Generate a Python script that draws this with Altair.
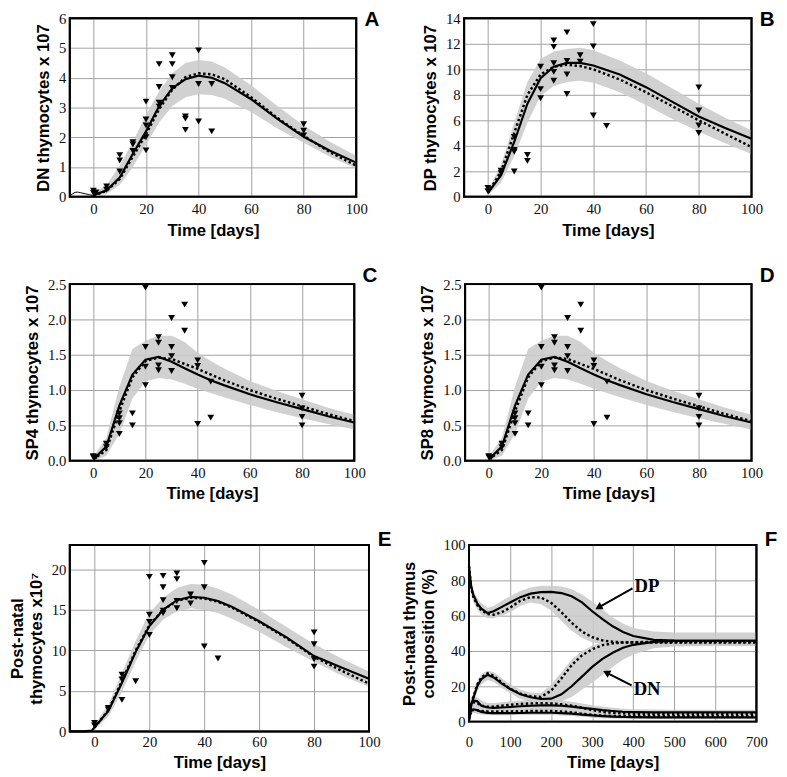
import altair as alt
import pandas as pd

# ---------------- data ----------------
T = [0, 5, 10, 15, 20, 25, 30, 35, 40, 45, 50, 60, 70, 80, 90, 100]

# Panel A (DN)
A_solid = [0.05, 0.22, 0.65, 1.45, 2.2, 3.05, 3.65, 3.95, 4.07, 4.0, 3.82, 3.28, 2.62, 2.02, 1.55, 1.15]
A_dot = [0.05, 0.2, 0.6, 1.35, 2.1, 2.95, 3.6, 4.02, 4.15, 4.12, 3.95, 3.35, 2.65, 2.05, 1.5, 1.05]
A_hi = [0.12, 0.4, 1.05, 1.85, 2.75, 3.55, 4.15, 4.5, 4.6, 4.55, 4.35, 3.75, 3.05, 2.4, 1.85, 1.38]
A_lo = [0.0, 0.1, 0.4, 1.0, 1.75, 2.5, 3.05, 3.35, 3.45, 3.42, 3.3, 2.85, 2.3, 1.82, 1.35, 0.95]
A_pre_t = [-9, -8, -7, -6, -5, -4, -3, -2, -1, 0]
A_pre_v = [0.02, 0.1, 0.15, 0.16, 0.14, 0.12, 0.1, 0.08, 0.06, 0.05]
A_px = [0, 0, 1, 5, 5, 10, 10, 10, 15, 15, 15, 20, 20, 20, 20, 20, 25, 25, 25, 25, 30, 30, 30, 30,
        35, 35, 35, 40, 40, 40, 45, 45, 80, 80, 80]
A_py = [0.21, 0.13, 0.15, 0.35, 0.24, 1.40, 1.22, 0.85, 1.84, 1.76, 1.54, 3.2, 2.6, 2.4, 2.0, 1.56,
        4.46, 3.69, 3.16, 3.03, 4.76, 4.46, 4.02, 3.66, 2.7, 2.63, 2.25, 4.92, 3.79, 2.53, 3.79, 2.2,
        2.44, 2.22, 2.06]

# Panel B (DP)
B_solid = [0.3, 1.7, 4.3, 7.3, 9.3, 10.2, 10.5, 10.5, 10.3, 9.95, 9.6, 8.6, 7.45, 6.3, 5.4, 4.55]
B_dot = [0.3, 2.0, 5.0, 8.0, 9.6, 10.2, 10.35, 10.25, 10.0, 9.6, 9.2, 8.2, 7.1, 6.0, 4.95, 3.9]
B_hi = [0.5, 2.5, 5.8, 9.0, 10.8, 11.4, 11.6, 11.7, 11.5, 11.1, 10.7, 9.7, 8.5, 7.3, 6.2, 5.2]
B_lo = [0.1, 1.1, 3.2, 5.8, 7.9, 8.7, 9.0, 9.1, 8.95, 8.6, 8.2, 7.2, 6.1, 5.1, 4.2, 3.35]
B_px = [0, 0, 5, 5, 10, 10, 10, 10, 15, 15, 20, 20, 20, 25, 25, 25, 25, 25, 30, 30, 30, 30,
        35, 35, 40, 40, 40, 45, 80, 80, 80, 80]
B_py = [0.7, 0.45, 2.04, 1.86, 4.7, 3.67, 3.54, 1.99, 3.28, 2.82, 10.2, 8.45, 7.73, 12.27, 11.76,
        10.47, 9.8, 9.1, 12.9, 10.65, 9.6, 8.06, 11.1, 10.6, 13.54, 11.8, 6.38, 5.56, 8.58, 6.77, 5.6, 5.0]

# Panel C (SP4) and D (SP8) -- identical in the figure
C_solid = [0.02, 0.2, 0.78, 1.22, 1.43, 1.47, 1.4, 1.31, 1.22, 1.14, 1.07, 0.94, 0.83, 0.73, 0.63, 0.54]
C_dot = [0.02, 0.15, 0.7, 1.18, 1.41, 1.46, 1.44, 1.37, 1.3, 1.22, 1.14, 1.0, 0.88, 0.77, 0.66, 0.56]
C_hi = [0.06, 0.32, 1.05, 1.58, 1.7, 1.77, 1.77, 1.68, 1.53, 1.41, 1.31, 1.13, 0.99, 0.87, 0.75, 0.65]
C_lo = [0.0, 0.07, 0.38, 0.88, 1.12, 1.17, 1.15, 1.09, 1.02, 0.96, 0.9, 0.79, 0.69, 0.6, 0.52, 0.44]
C_px = [0, 0, 1, 5, 5, 10, 10, 10, 10, 15, 15, 20, 20, 20, 20, 25, 25, 25, 25, 30, 30, 30, 30,
        35, 35, 40, 40, 40, 45, 45, 80, 80, 80, 80]
C_py = [0.065, 0.05, 0.05, 0.24, 0.19, 0.67, 0.6, 0.53, 0.38, 0.67, 0.5, 2.45, 1.61, 1.33, 1.07,
        1.75, 1.67, 1.35, 1.28, 2.02, 1.61, 1.48, 1.27, 2.21, 1.84, 1.42, 1.34, 0.52, 1.12, 0.61,
        0.92, 0.74, 0.62, 0.5]

# Panel E (total)
E_solid_t = [-9, -4, -1] + T
E_solid = [0.0, 0.0, 0.1, 0.5, 2.5, 6.0, 9.8, 13.0, 15.0, 16.2, 16.6, 16.5, 16.1, 15.4, 13.6, 11.6, 9.3, 7.9, 6.5]
E_dot = [0.5, 2.6, 6.2, 10.0, 13.1, 15.0, 16.1, 16.5, 16.4, 16.0, 15.3, 13.5, 11.5, 9.2, 7.5, 5.9]
E_hi = [0.9, 3.3, 7.2, 11.2, 14.6, 16.5, 17.7, 18.2, 18.1, 17.6, 16.9, 15.0, 12.9, 10.8, 9.0, 7.4]
E_lo = [0.2, 1.8, 4.9, 8.6, 11.9, 13.8, 14.8, 15.2, 15.0, 14.6, 13.9, 12.3, 10.4, 8.6, 6.9, 5.5]
E_px = [0, 0, 5, 5, 10, 10, 10, 15, 20, 20, 20, 20, 25, 25, 25, 25, 25, 30, 30, 30, 30, 35, 35,
        40, 40, 40, 45, 80, 80, 80, 80]
E_py = [1.05, 0.73, 2.9, 2.7, 7.0, 6.4, 3.9, 6.2, 19.07, 14.4, 13.5, 11.9, 19.2, 17.8, 16.2, 14.9,
        14.6, 19.5, 18.8, 16.1, 15.2, 16.9, 15.8, 20.8, 17.8, 10.5, 9.0, 12.2, 10.75, 8.9, 8.0]

# Panel F (composition, %)
F_T = [0, 5, 10, 20, 30, 45, 60, 80, 100, 125, 150, 175, 200, 225, 250, 275, 300, 325, 350, 375,
       400, 450, 500, 600, 700]
DP_solid = [88, 77, 72, 67, 64, 61.5, 62.5, 65, 67.5, 70.5, 72.5, 73.3, 73.5, 72.8, 71, 67.5, 62.5,
            58, 54, 50.8, 48.5, 46.3, 45.9, 45.8, 45.8]
DP_dot = [88, 76, 71, 66, 63, 61, 60.5, 62, 64.5, 68.5, 70.5, 70.3, 67.3, 62, 56, 51, 47.8, 46,
          45.2, 44.9, 44.8, 44.8, 44.8, 44.8, 44.8]
DP_hi = [90, 80, 75, 70, 67, 64.5, 65.5, 68.5, 71, 74, 76, 77, 77, 76.5, 75, 72, 68, 63.5, 59, 55.5,
         53, 51, 50.5, 50.5, 50.5]
DP_lo = [85, 73, 68, 63.5, 60.5, 58.5, 58.5, 60, 62, 65.5, 67.5, 66.5, 63, 57, 51.5, 47.5, 45, 43.8,
         43.3, 43, 42.8, 42.8, 42.8, 42.8, 42.8]
DN_solid = [2, 9, 13, 20, 24, 26.5, 25, 21.5, 18.5, 15.5, 13.8, 12.8, 13, 15.5, 20, 25.5, 31, 35.5,
            39, 41.8, 43.5, 45.2, 45.7, 45.8, 45.8]
DN_dot = [2, 9, 13.5, 21, 25, 27.3, 26, 22, 18.7, 15.8, 14.3, 14, 17.5, 24.5, 32, 37.5, 41, 43.3,
          44.3, 44.8, 45, 45.1, 45.1, 45.1, 45.1]
DN_hi = [5, 12, 16, 23, 27, 29, 28, 24.5, 21, 18, 16.5, 16, 21, 28, 35, 40, 43, 44.8, 45.8, 46.3,
         46.6, 47, 47, 47, 47]
DN_lo = [0, 6, 10, 17, 21, 23.5, 22.5, 19, 16, 13, 11.3, 10.5, 10.5, 11.5, 14, 18, 22, 26.5, 31, 35,
         38, 41.5, 42.5, 43, 43]
S1_solid = [3, 10, 12, 11.5, 9, 8, 7.8, 8, 8.3, 8.7, 9, 9.2, 9.2, 9, 8.5, 7.8, 7.2, 6.5, 6, 5.6,
            5.4, 5.2, 5.2, 5.2, 5.2]
S1_dot = [3, 9.5, 11, 10.5, 9, 8.5, 8.5, 9, 9.5, 10, 10.3, 10.4, 10.3, 9.8, 9, 7.8, 6.5, 5.5, 5,
          4.7, 4.5, 4.3, 4.3, 4.3, 4.3]
S2_solid = [1, 6.5, 7, 6.5, 5.5, 4.9, 4.8, 4.8, 4.8, 4.9, 5, 5, 5, 4.8, 4.5, 4, 3.5, 3.1, 2.8, 2.6,
            2.5, 2.4, 2.4, 2.4, 2.4]
S2_dot = [1, 6, 6.5, 6.5, 6, 5.8, 5.8, 5.8, 5.8, 5.9, 6, 6, 6, 5.7, 5.2, 4.5, 3.8, 3.4, 3.2, 3.1,
          3, 3, 3, 3, 3]
SM_hi = [8, 14, 15, 14, 12, 10.5, 10.5, 11, 11.5, 12, 12.3, 12.5, 12.5, 12, 11.3, 10.3, 9.3, 8.5,
         7.8, 7.3, 7, 6.8, 6.7, 6.7, 6.7]
SM_lo = [0, 4, 5, 4.5, 4, 3.7, 3.6, 3.6, 3.6, 3.7, 3.8, 3.8, 3.8, 3.5, 3.2, 2.7, 2.2, 1.9, 1.7,
         1.6, 1.5, 1.5, 1.5, 1.5, 1.5]

# annotations in panel F
ANN_text = ["DP", "DN"]
ANN_tx = [403, 401]
ANN_ty = [76.5, 18.5]
ARR_x = [398, 396]
ARR_y = [75.5, 20.5]
ARR_x2 = [318, 337]
ARR_y2 = [65.0, 27.5]
ARR_angle = [241, 297]

BAND = "#cbcbcb"
DASH = [2.5, 2.5]
FRAME = alt.ViewBackground(stroke="black", strokeWidth=2)


def ax(values, title, fmt=None, x=False, lpad=None):
    kw = dict(values=values, title=title, grid=True, gridColor="#a0a0a0", gridWidth=1,
              domain=False, ticks=False,
              labelFont="Liberation Serif", labelFontSize=15, labelColor="#111111",
              labelPadding=lpad if lpad is not None else (5 if x else 4), labelFlush=False,
              titleFont="Liberation Sans", titleFontWeight="bold", titleFontSize=17,
              titleColor="black", titlePadding=6)
    if fmt:
        kw["format"] = fmt
    return alt.Axis(**kw)


def scales(xdom, ydom):
    return (alt.Scale(domain=xdom, nice=False, zero=False),
            alt.Scale(domain=ydom, nice=False, zero=False))


def letter_layer(letter, x, y):
    return alt.Chart(pd.DataFrame({"k": [0]})).mark_text(
        text=letter, font="Liberation Sans", fontWeight="bold", fontSize=21,
        baseline="top", align="center", color="black"
    ).encode(x=alt.value(x), y=alt.value(y))


def pin_layer(L, R, Tp, Bp):
    return alt.Chart(pd.DataFrame({"k": [0]})).mark_rect(opacity=0).encode(
        x=alt.value(L), x2=alt.value(R), y=alt.value(Tp), y2=alt.value(Bp))


def frame_layer(w, h):
    # plot border drawn above the grid lines
    return alt.Chart(pd.DataFrame({"k": [0]})).mark_rect(
        fillOpacity=0, stroke="black", strokeWidth=2).encode(
        x=alt.value(0), x2=alt.value(w), y=alt.value(0), y2=alt.value(h))


def panel(solid_t, solid, dot, lo, hi, px, py, ydom, yvals, ytitle, letter, w, h,
          pins, letter_y, yfmt=None, pre=None, xpad=5):
    xs, ys = scales([-9, 100], ydom)
    xax = ax([0, 20, 40, 60, 80, 100], "Time [days]", x=True, lpad=xpad)
    yax = ax(yvals, ytitle, yfmt)

    def X(f):
        return alt.X(f + ":Q", scale=xs, axis=xax)

    def Y(f):
        return alt.Y(f + ":Q", scale=ys, axis=yax)

    band = alt.Chart(pd.DataFrame({"t": T, "lo": lo, "hi": hi})).mark_area(
        color=BAND, opacity=0.88).encode(x=X("t"), y=Y("lo"), y2="hi:Q")
    dotted = alt.Chart(pd.DataFrame({"t": T, "dot": dot})).mark_line(
        color="black", strokeWidth=2.5, strokeDash=DASH).encode(x=X("t"), y=Y("dot"))
    sol = alt.Chart(pd.DataFrame({"t": solid_t, "solid": solid})).mark_line(
        color="black", strokeWidth=2.2).encode(x=X("t"), y=Y("solid"))
    pts = alt.Chart(pd.DataFrame({"px": px, "py": py})).mark_point(
        shape="triangle-down", filled=True, color="black", size=48, opacity=1
    ).encode(x=X("px"), y=Y("py"))
    layers = [band, dotted, sol]
    if pre is not None:
        layers.append(alt.Chart(pd.DataFrame({"t": pre[0], "pre": pre[1]})).mark_line(
            color="black", strokeWidth=1).encode(x=X("t"), y=Y("pre")))
    layers += [pts, frame_layer(w, h), letter_layer(letter, w + 16, letter_y), pin_layer(*pins)]
    return alt.layer(*layers).properties(width=w, height=h, view=FRAME)


# ---------------- panels ----------------
wA, hA = 292, 182
A = panel(T, A_solid, A_dot, A_lo, A_hi, A_px, A_py, [0, 6], [0, 1, 2, 3, 4, 5, 6],
          "DN thymocytes x 107", "A", wA, hA, (-61, wA + 26, -9, hA + 50), -9, pre=(A_pre_t, A_pre_v))
wB, hB = 293, 182
B = panel(T, B_solid, B_dot, B_lo, B_hi, B_px, B_py, [0, 14], [0, 2, 4, 6, 8, 10, 12, 14],
          "DP thymocytes x 107", "B", wB, hB, (-48, wB + 22, -9, hB + 50), -9)

wC, hC = 290, 180
C = panel(T, C_solid, C_dot, C_lo, C_hi, C_px, C_py, [0, 2.5], [0, 0.5, 1.0, 1.5, 2.0, 2.5],
          "SP4 thymocytes x 107", "C", wC, hC, (-61, wC + 26, -22, hC + 50), -19, yfmt=".1f")
wD, hD = 292, 180
D = panel(T, C_solid, C_dot, C_lo, C_hi, C_px, C_py, [0, 2.5], [0, 0.5, 1.0, 1.5, 2.0, 2.5],
          "SP8 thymocytes x 107", "D", wD, hD, (-48, wD + 22, -22, hD + 50), -19, yfmt=".1f")

wE, hE = 305, 190
E = panel(E_solid_t, E_solid, E_dot, E_lo, E_hi, E_px, E_py, [0, 23], [0, 5, 10, 15, 20],
          ["Post-natal", "thymocytes x10\u2077"], "E", wE, hE, (-60, wE + 24, -19, hE + 30), -16,
          xpad=3)

# Panel F
wF, hF = 293, 180
fxs, fys = scales([0, 700], [0, 100])
fxax = ax([0, 100, 200, 300, 400, 500, 600, 700], "Time [days]", x=True, lpad=13)
fyax = ax([0, 20, 40, 60, 80, 100], ["Post-natal thymus", "composition (%)"])

band_rows = []
for name, lo, hi in [("DP", DP_lo, DP_hi), ("DN", DN_lo, DN_hi), ("SM", SM_lo, SM_hi)]:
    for t, a, b in zip(F_T, lo, hi):
        band_rows.append({"t": t, "lo": a, "hi": b, "band": name})
line_rows = []
for name, vals, style in [("DPs", DP_solid, "s"), ("DPd", DP_dot, "d"), ("DNs", DN_solid, "s"),
                          ("DNd", DN_dot, "d"), ("S1s", S1_solid, "s"), ("S1d", S1_dot, "d"),
                          ("S2s", S2_solid, "s"), ("S2d", S2_dot, "d")]:
    for t, v in zip(F_T, vals):
        line_rows.append({"t": t, "v": v, "series": name, "style": style})
fb = pd.DataFrame(band_rows)
fl = pd.DataFrame(line_rows)


def FX(f):
    return alt.X(f + ":Q", scale=fxs, axis=fxax)


def FY(f):
    return alt.Y(f + ":Q", scale=fys, axis=fyax)


f_band = alt.Chart(fb).mark_area(color=BAND, opacity=0.88).encode(
    x=FX("t"), y=FY("lo"), y2="hi:Q", detail="band:N")
f_dot = alt.Chart(fl).transform_filter("datum.style == 'd'").mark_line(
    color="black", strokeWidth=2.5, strokeDash=DASH).encode(x=FX("t"), y=FY("v"), detail="series:N")
f_sol = alt.Chart(fl).transform_filter("datum.style == 's'").mark_line(
    color="black", strokeWidth=2.2).encode(x=FX("t"), y=FY("v"), detail="series:N")
arr_df = pd.DataFrame({"x": ARR_x, "y": ARR_y, "x2": ARR_x2, "y2": ARR_y2, "ang": ARR_angle})
f_arr = alt.Chart(arr_df).mark_rule(color="black", strokeWidth=2).encode(
    x=FX("x"), y=FY("y"), x2="x2:Q", y2="y2:Q")
f_head = alt.Chart(arr_df).mark_point(shape="triangle", filled=True, color="black", size=70,
                                      opacity=1).encode(
    x=FX("x2"), y=FY("y2"), angle=alt.Angle("ang:Q", scale=None))
ann_df = pd.DataFrame({"x": ANN_tx, "y": ANN_ty, "txt": ANN_text})
f_txt = alt.Chart(ann_df).mark_text(font="Liberation Serif", fontWeight="bold", fontSize=19,
                                    align="left", baseline="middle", color="black").encode(
    x=FX("x"), y=FY("y"), text="txt:N")
F = alt.layer(f_band, f_dot, f_sol, f_arr, f_head, f_txt, frame_layer(wF, hF),
              letter_layer("F", wF + 15, -16), pin_layer(-66, wF + 22, -19, hF + 30)
              ).properties(width=wF, height=hF, view=FRAME)

row1 = alt.hconcat(A, B, spacing=34)
row2 = alt.hconcat(C, D, spacing=37)
row3 = alt.hconcat(E, F, spacing=6)

chart = alt.vconcat(row1, row2, row3, spacing=15).properties(
    padding={"left": 0, "top": -7, "right": 0, "bottom": 0}
).configure_view(stroke="black", strokeWidth=2)

chart.save("out.html", embed_options={"renderer": "svg", "actions": False})
